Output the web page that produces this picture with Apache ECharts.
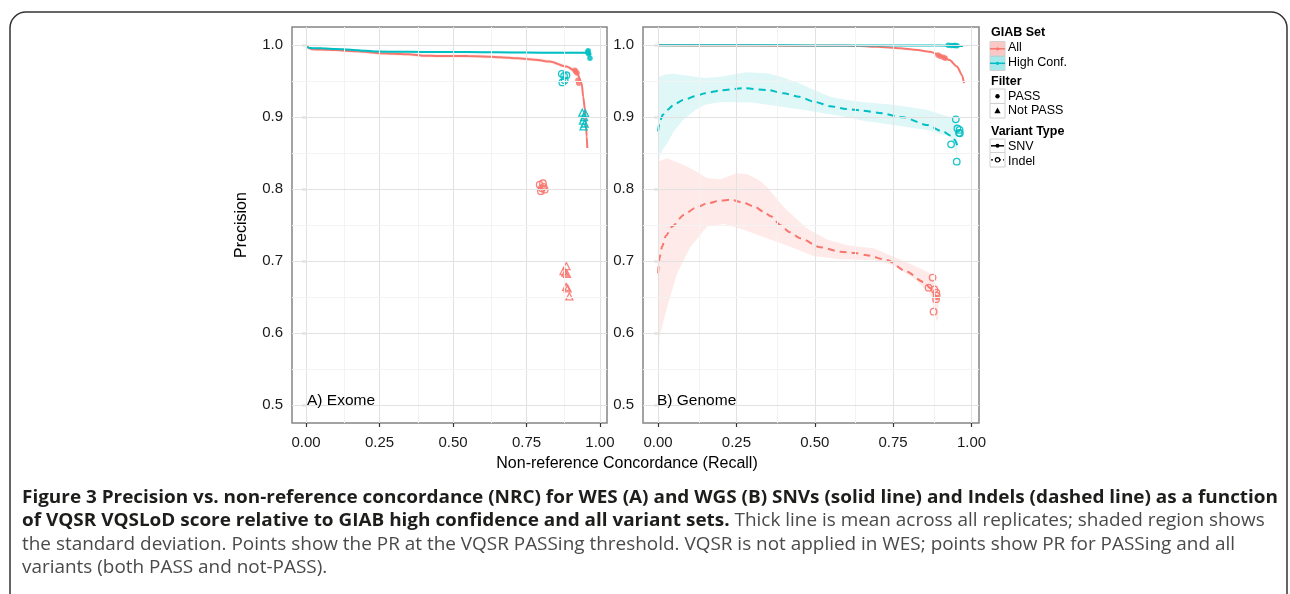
<!DOCTYPE html>
<html>
<head>
<meta charset="utf-8">
<script src="https://cdn.jsdelivr.net/npm/echarts@6/dist/echarts.min.js"></script>
<style>
html,body{margin:0;padding:0;background:#fff;}
#chart{width:1290px;height:594px;}
</style>
</head>
<body>
<div id="chart"></div>
<script>
// ---------- DATA ----------
const xTickValues = [0, 0.25, 0.5, 0.75, 1.0];
const xMinorValues = [0.125, 0.375, 0.625, 0.875];
const yTickValues = [0.5, 0.6, 0.7, 0.8, 0.9, 1.0];
const yMinorValues = [0.55, 0.65, 0.75, 0.85, 0.95];
const panelLabels = ['A) Exome', 'B) Genome'];

// Exome (WES)
const exAllSNV = [[0.003,0.998],[0.01,0.9955],[0.023,0.994],[0.05,0.9937],[0.1,0.993],[0.15,0.9918],[0.2,0.9905],[0.25,0.9886],[0.3,0.988],[0.35,0.9872],[0.4,0.9852],[0.45,0.9847],[0.5,0.9847],[0.55,0.9846],[0.6,0.9842],[0.66,0.983],[0.72,0.9815],[0.78,0.9795],[0.83,0.977],[0.886,0.970],[0.92,0.963],[0.938,0.947],[0.943,0.928],[0.949,0.91],[0.952,0.891],[0.955,0.873],[0.957,0.857]];
const exHcSNV = [[0.003,0.998],[0.01,0.996],[0.023,0.9955],[0.055,0.9954],[0.1,0.9945],[0.15,0.9935],[0.2,0.992],[0.25,0.9908],[0.3,0.9906],[0.4,0.9904],[0.5,0.9903],[0.6,0.9901],[0.7,0.9897],[0.8,0.9894],[0.9,0.9893],[0.95,0.9891],[0.962,0.9878],[0.968,0.986]];
const exAllSNVPts = [[0.915,0.965],[0.922,0.961],[0.925,0.951],[0.928,0.947],[0.918,0.963]];
const exHcSNVPts = [[0.960,0.992],[0.962,0.9875],[0.966,0.9815],[0.958,0.990]];
const exHcIndelPass = [[0.870,0.960],[0.878,0.957],[0.886,0.958],[0.872,0.948],[0.880,0.951]];
const exHcIndelNotPass = [[0.940,0.906],[0.946,0.900],[0.942,0.895],[0.948,0.891],[0.944,0.887],[0.950,0.905]];
const exAllIndelPass = [[0.795,0.806],[0.806,0.808],[0.802,0.801],[0.812,0.799],[0.799,0.797],[0.808,0.803]];
const exAllIndelNotPass = [[0.886,0.693],[0.876,0.686],[0.882,0.684],[0.888,0.682],[0.885,0.664],[0.890,0.662],[0.896,0.651]];

// Genome (WGS)
const gnHcSNV = [[0,0.9995],[0.2,0.9995],[0.4,0.9995],[0.6,0.9994],[0.8,0.9993],[0.9,0.9992],[0.95,0.999],[0.973,0.9985]];
const gnAllSNV = [[0,0.9995],[0.2,0.9993],[0.4,0.999],[0.6,0.9988],[0.645,0.9986],[0.7,0.9974],[0.772,0.9954],[0.82,0.9935],[0.868,0.9907],[0.909,0.9838],[0.93,0.979],[0.954,0.970],[0.97,0.958],[0.976,0.947]];
const gnAllSNVPts = [[0.893,0.986],[0.900,0.9845],[0.916,0.9815],[0.910,0.983]];
const gnHcSNVPts = [[0.926,0.9995],[0.935,0.9993],[0.944,0.9992],[0.954,0.999],[0.948,0.9994]];

const gnHcIndel = [[0,0.88],[0.005,0.893],[0.015,0.903],[0.03,0.91],[0.05,0.917],[0.08,0.9236],[0.12,0.929],[0.15,0.933],[0.2,0.937],[0.27,0.94],[0.35,0.9375],[0.4,0.933],[0.45,0.928],[0.5,0.921],[0.55,0.915],[0.6,0.911],[0.65,0.909],[0.7,0.906],[0.783,0.8996],[0.857,0.889],[0.91,0.8796],[0.935,0.874],[0.947,0.868],[0.955,0.86]];
const gnHcIndelUpper = [[0,0.955],[0.02,0.959],[0.05,0.96],[0.1,0.957],[0.15,0.954],[0.2,0.956],[0.28,0.962],[0.35,0.9606],[0.4,0.955],[0.45,0.947],[0.5,0.937],[0.55,0.928],[0.6,0.924],[0.65,0.921],[0.75,0.917],[0.857,0.91],[0.93,0.90],[0.955,0.897]];
const gnHcIndelLower = [[0,0.83],[0.005,0.845],[0.015,0.855],[0.03,0.864],[0.05,0.88],[0.08,0.896],[0.12,0.91],[0.15,0.917],[0.2,0.921],[0.3,0.92],[0.4,0.914],[0.5,0.9074],[0.6,0.90],[0.65,0.895],[0.75,0.889],[0.857,0.882],[0.93,0.873],[0.945,0.86],[0.955,0.84]];
const gnHcIndelPass = [[0.950,0.8968],[0.955,0.884],[0.963,0.8774],[0.960,0.878],[0.935,0.862],[0.953,0.838],[0.962,0.882]];

const gnAllIndel = [[0,0.683],[0.005,0.705],[0.013,0.72],[0.025,0.735],[0.045,0.748],[0.082,0.764],[0.12,0.774],[0.157,0.78],[0.2,0.784],[0.231,0.785],[0.273,0.781],[0.31,0.775],[0.336,0.7685],[0.36,0.762],[0.39,0.75],[0.42,0.74],[0.454,0.7315],[0.518,0.719],[0.581,0.713],[0.63,0.711],[0.666,0.708],[0.73,0.7014],[0.794,0.685],[0.846,0.671],[0.87,0.662],[0.889,0.6504],[0.894,0.639]];
const gnAllIndelUpper = [[0,0.838],[0.029,0.8426],[0.082,0.8333],[0.12,0.825],[0.157,0.815],[0.2,0.8135],[0.25,0.822],[0.283,0.821],[0.32,0.813],[0.347,0.803],[0.4,0.7754],[0.475,0.745],[0.539,0.73],[0.603,0.722],[0.688,0.7176],[0.751,0.706],[0.815,0.694],[0.868,0.683],[0.894,0.66]];
const gnAllIndelLower = [[0,0.55],[0.005,0.595],[0.029,0.636],[0.061,0.683],[0.104,0.72],[0.157,0.748],[0.21,0.7514],[0.262,0.745],[0.347,0.7315],[0.42,0.72],[0.496,0.707],[0.581,0.7023],[0.688,0.7014],[0.751,0.694],[0.815,0.676],[0.868,0.655],[0.889,0.616],[0.894,0.62]];
const gnAllIndelPass = [[0.876,0.677],[0.863,0.663],[0.882,0.6607],[0.889,0.6518],[0.887,0.647],[0.879,0.6296],[0.888,0.656]];

const exomeBandHalfWidth = [0.0025, 0.0015]; // All, High Conf.

const captionLines = [
  {bold: 'Figure 3 Precision vs. non-reference concordance (NRC) for WES (A) and WGS (B) SNVs (solid line) and Indels (dashed line) as a function', reg: ''},
  {bold: 'of VQSR VQSLoD score relative to GIAB high confidence and all variant sets.', reg: 'Thick line is mean across all replicates; shaded region shows'},
  {bold: '', reg: 'the standard deviation. Points show the PR at the VQSR PASSing threshold. VQSR is not applied in WES; points show PR for PASSing and all'},
  {bold: '', reg: 'variants (both PASS and not-PASS).'}
];

// ---------- STYLE ----------
const RED = '#F8766D', CYAN = '#00BFC4';
const RED_BAND = 'rgba(248,118,109,0.15)', CYAN_BAND = 'rgba(0,191,196,0.12)';
const FONT = '"Liberation Sans", Arial, Helvetica, sans-serif';

const chart = echarts.init(document.getElementById('chart'), null, {renderer: 'canvas'});

function bandFromLine(line, hw) {
  return {upper: line.map(p => [p[0], p[1] + hw]), lower: line.map(p => [p[0], p[1] - hw])};
}
function bandSeries(idx, upper, lower, color) {
  return {
    type: 'custom', xAxisIndex: idx, yAxisIndex: idx, data: [0], silent: true, z: 2,
    renderItem: function (params, api) {
      const pts = upper.map(p => api.coord(p)).concat(lower.slice().reverse().map(p => api.coord(p)));
      return {type: 'polygon', shape: {points: pts}, style: {fill: color}};
    }
  };
}
function lineSeries(idx, data, color, dashed) {
  return {
    type: 'line', xAxisIndex: idx, yAxisIndex: idx, data: data, showSymbol: false, symbol: 'none',
    smooth: 0.25, smoothMonotone: 'x', z: 3, silent: true,
    lineStyle: {color: color, width: 2, type: dashed ? [7, 5] : 'solid'}
  };
}
function pointSeries(idx, data, color, shape, open) {
  return {
    type: 'scatter', xAxisIndex: idx, yAxisIndex: idx, data: data, symbol: shape,
    symbolSize: shape === 'triangle' ? 7 : (open ? 6.5 : 5.5), z: 4, silent: true,
    itemStyle: open ? {color: 'rgba(255,255,255,0)', borderColor: color, borderWidth: 1.3, opacity: 0.9}
                    : {color: color, opacity: 0.85}
  };
}
function gridSeries(idx) {
  const d = [];
  xTickValues.forEach(v => d.push({xAxis: v, lineStyle: {color: '#e2e2e2', width: 1.1, type: 'solid'}}));
  xMinorValues.forEach(v => d.push({xAxis: v, lineStyle: {color: '#f3f3f3', width: 1, type: 'solid'}}));
  yTickValues.forEach(v => d.push({yAxis: v, lineStyle: {color: '#e2e2e2', width: 1.1, type: 'solid'}}));
  yMinorValues.forEach(v => d.push({yAxis: v, lineStyle: {color: '#f3f3f3', width: 1, type: 'solid'}}));
  return {
    type: 'line', xAxisIndex: idx, yAxisIndex: idx, data: [], z: 1, silent: true,
    markLine: {silent: true, symbol: ['none', 'none'], label: {show: false}, animation: false, data: d}
  };
}

function xAxisFor(idx) {
  return {
    type: 'value', gridIndex: idx, min: -0.048, max: 1.024,
    axisLine: {show: false}, splitLine: {show: false},
    axisTick: {show: true, customValues: xTickValues, length: 4, lineStyle: {color: '#333', width: 1.2}},
    axisLabel: {show: true, customValues: xTickValues, margin: 12, color: '#1a1a1a', fontSize: 15, fontFamily: FONT,
      formatter: v => v.toFixed(2)}
  };
}
function yAxisFor(idx) {
  return {
    type: 'value', gridIndex: idx, min: 0.475, max: 1.025,
    axisLine: {show: false}, splitLine: {show: false},
    axisTick: {show: true, customValues: yTickValues, length: 4, lineStyle: {color: '#333', width: 1.2}},
    axisLabel: {show: true, customValues: yTickValues, margin: 9, color: '#1a1a1a', fontSize: 15, fontFamily: FONT,
      formatter: v => v.toFixed(1)}
  };
}

const exAllBand = bandFromLine(exAllSNV, exomeBandHalfWidth[0]);
const exHcBand = bandFromLine(exHcSNV, exomeBandHalfWidth[1]);

const series = [
  gridSeries(0), gridSeries(1),
  bandSeries(0, exAllBand.upper, exAllBand.lower, RED_BAND),
  bandSeries(0, exHcBand.upper, exHcBand.lower, CYAN_BAND),
  lineSeries(0, exAllSNV, RED, false),
  lineSeries(0, exHcSNV, CYAN, false),
  pointSeries(0, exAllSNVPts, RED, 'circle', false),
  pointSeries(0, exHcSNVPts, CYAN, 'circle', false),
  pointSeries(0, exHcIndelPass, CYAN, 'circle', true),
  pointSeries(0, exHcIndelNotPass, CYAN, 'triangle', true),
  pointSeries(0, exAllIndelPass, RED, 'circle', true),
  pointSeries(0, exAllIndelNotPass, RED, 'triangle', true),

  bandSeries(1, gnHcIndelUpper, gnHcIndelLower, CYAN_BAND),
  bandSeries(1, gnAllIndelUpper, gnAllIndelLower, RED_BAND),
  lineSeries(1, gnHcIndel, CYAN, true),
  lineSeries(1, gnAllIndel, RED, true),
  lineSeries(1, gnAllSNV, RED, false),
  lineSeries(1, gnHcSNV, CYAN, false),
  pointSeries(1, gnAllSNVPts, RED, 'circle', false),
  pointSeries(1, gnHcSNVPts, CYAN, 'circle', false),
  pointSeries(1, gnHcIndelPass, CYAN, 'circle', true),
  pointSeries(1, gnAllIndelPass, RED, 'circle', true)
];

// ---------- caption layout (measured text, scaled to width) ----------
const CAP_FONT = '"Open Sans", "Noto Sans", sans-serif';
const CAP_SIZE = 18;
const mctx = document.createElement('canvas').getContext('2d');
function measure(t, weight) { mctx.font = weight + ' ' + CAP_SIZE + 'px ' + CAP_FONT; return mctx.measureText(t).width; }
const capScale = 1256 / measure(captionLines[0].bold, 'bold');
const capY = [498, 521, 545, 568];
const captionEls = [];
captionLines.forEach((ln, i) => {
  let x = 22;
  if (ln.bold) {
    captionEls.push({type: 'text', x: x, y: capY[i], scaleX: capScale, silent: true,
      style: {text: ln.bold, fill: '#1d1d1b', font: 'bold ' + CAP_SIZE + 'px ' + CAP_FONT, textVerticalAlign: 'middle'}});
    x += (measure(ln.bold + ' ', 'bold')) * capScale;
  }
  if (ln.reg) {
    captionEls.push({type: 'text', x: x, y: capY[i], scaleX: capScale, silent: true,
      style: {text: ln.reg, fill: '#4a4a4a', font: 'normal ' + CAP_SIZE + 'px ' + CAP_FONT, textVerticalAlign: 'middle'}});
  }
});

// ---------- legend (drawn) ----------
const LX = 990, KW = 15;
function keyBox(y, h, fill) {
  return {type: 'rect', shape: {x: LX, y: y, width: KW, height: h}, style: {fill: fill, stroke: '#d0d0d0', lineWidth: 1}, silent: true};
}
function ltext(t, y, bold) {
  return {type: 'text', x: bold ? 991 : 1008, y: y, silent: true,
    style: {text: t, fill: '#000', font: (bold ? 'bold ' : '') + '12.5px ' + FONT, textVerticalAlign: 'middle'}};
}
const legendEls = [
  ltext('GIAB Set', 33, true),
  keyBox(41.5, 14.5, 'rgba(248,118,109,0.4)'),
  {type: 'line', shape: {x1: LX, y1: 48.8, x2: LX + KW, y2: 48.8}, style: {stroke: RED, lineWidth: 1.5}, silent: true},
  {type: 'circle', shape: {cx: LX + KW / 2, cy: 48.8, r: 1.6}, style: {fill: RED}, silent: true},
  ltext('All', 48, false),
  keyBox(56, 14.5, 'rgba(0,191,196,0.35)'),
  {type: 'line', shape: {x1: LX, y1: 63.3, x2: LX + KW, y2: 63.3}, style: {stroke: CYAN, lineWidth: 1.5}, silent: true},
  {type: 'circle', shape: {cx: LX + KW / 2, cy: 63.3, r: 1.6}, style: {fill: CYAN}, silent: true},
  ltext('High Conf.', 63, false),

  ltext('Filter', 82, true),
  keyBox(89, 14.5, '#fff'),
  {type: 'circle', shape: {cx: LX + KW / 2, cy: 96.3, r: 2.2}, style: {fill: '#000'}, silent: true},
  ltext('PASS', 97, false),
  keyBox(103.5, 14.5, '#fff'),
  {type: 'polygon', shape: {points: [[LX + 7.5, 107.6], [LX + 10.6, 113.2], [LX + 4.4, 113.2]]}, style: {fill: '#000'}, silent: true},
  ltext('Not PASS', 111, false),

  ltext('Variant Type', 131.5, true),
  keyBox(139, 13.5, '#fff'),
  {type: 'line', shape: {x1: LX + 1, y1: 145.8, x2: LX + KW - 1, y2: 145.8}, style: {stroke: '#000', lineWidth: 1.5}, silent: true},
  {type: 'circle', shape: {cx: LX + KW / 2, cy: 145.8, r: 2}, style: {fill: '#000'}, silent: true},
  ltext('SNV', 146.5, false),
  keyBox(152.5, 14.5, '#fff'),
  {type: 'line', shape: {x1: LX + 1, y1: 159.8, x2: LX + KW - 1, y2: 159.8}, style: {stroke: '#000', lineWidth: 1.3, lineDash: [2, 2]}, silent: true},
  {type: 'circle', shape: {cx: LX + KW / 2, cy: 159.8, r: 2.2}, style: {fill: '#fff', stroke: '#000', lineWidth: 1.1}, silent: true},
  ltext('Indel', 161.5, false)
];

const option = {
  backgroundColor: '#fff',
  animation: false,
  grid: [
    {left: 292, top: 27, width: 315, height: 396, show: true, backgroundColor: '#fff', borderColor: '#858585', borderWidth: 1.5},
    {left: 643, top: 27, width: 336, height: 396, show: true, backgroundColor: '#fff', borderColor: '#858585', borderWidth: 1.5}
  ],
  xAxis: [xAxisFor(0), xAxisFor(1)],
  yAxis: [yAxisFor(0), yAxisFor(1)],
  series: series,
  graphic: {elements: [
    {type: 'rect', shape: {x: 10, y: 12, width: 1277, height: 640, r: 16}, style: {fill: 'none', stroke: '#333', lineWidth: 1.5}, silent: true, z: -1},
    {type: 'text', x: 307, y: 401, silent: true, style: {text: panelLabels[0], fill: '#000', font: '15.5px ' + FONT, textVerticalAlign: 'middle'}, z: 10},
    {type: 'text', x: 657, y: 401, silent: true, style: {text: panelLabels[1], fill: '#000', font: '15.5px ' + FONT, textVerticalAlign: 'middle'}, z: 10},
    {type: 'text', x: 627, y: 464, silent: true, style: {text: 'Non-reference Concordance (Recall)', fill: '#000', font: '16px ' + FONT, textAlign: 'center', textVerticalAlign: 'middle'}},
    {type: 'text', x: 242, y: 225, rotation: Math.PI / 2, silent: true, style: {text: 'Precision', fill: '#000', font: '16px ' + FONT, textAlign: 'center', textVerticalAlign: 'middle'}}
  ].concat(legendEls).concat(captionEls)}
};
chart.setOption(option);
</script>
</body>
</html>
